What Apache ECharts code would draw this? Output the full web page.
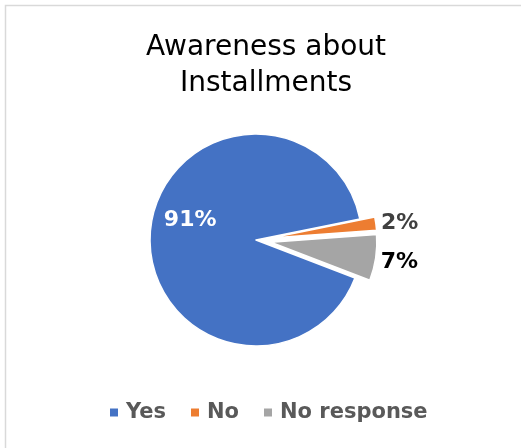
<!DOCTYPE html>
<html>
<head>
<meta charset="utf-8">
<title>Awareness about Installments</title>
<script src="https://cdn.jsdelivr.net/npm/echarts@6/dist/echarts.min.js"></script>
<style>
  html, body { margin: 0; padding: 0; background: #ffffff; }
  #chart { width: 521px; height: 448px; }
</style>
</head>
<body>
<div id="chart"></div>
<script>
// Survey answers and their shares (percent)
const categories = ['Yes', 'No', 'No response'];
const shares = [91, 2, 7];
const sliceColors = ['#4472C4', '#ED7D31', '#A5A5A5'];
const labelColors = ['#FFFFFF', '#404040', '#000000'];
// Minority answers are pulled out of the pie
const pulledOut = [false, true, true];

const FONT = 'DejaVu Sans, Verdana, sans-serif';

// Small nudges for the percentage labels
const labelNudge = [[-10, -15], [0, 0], [0, 5]];

const pieData = categories.map((name, i) => ({
  name: name,
  value: shares[i],
  selected: pulledOut[i],
  itemStyle: { color: sliceColors[i] },
  label: {
    position: i === 0 ? 'inside' : 'outside',
    color: labelColors[i]
  },
  select: {
    itemStyle: { color: sliceColors[i], borderColor: '#FFFFFF', borderWidth: 1.5 },
    label: { color: labelColors[i] }
  }
}));

const chart = echarts.init(document.getElementById('chart'), null, { renderer: 'canvas' });

chart.setOption({
  animation: false,
  backgroundColor: '#FFFFFF',
  graphic: [{
    type: 'rect',
    shape: { x: 5.5, y: 5.5, width: 700, height: 700 },
    style: { fill: 'none', stroke: '#D9D9D9', lineWidth: 1.5 },
    silent: true,
    z: -10
  }],
  title: {
    text: 'Awareness about\nInstallments',
    left: 266,
    top: 30,
    padding: 0,
    textAlign: 'center',
    textStyle: {
      fontFamily: FONT,
      fontSize: 28,
      fontWeight: 'normal',
      color: '#000000',
      lineHeight: 36
    }
  },
  legend: {
    data: categories,
    left: 110,
    top: 402,
    padding: 0,
    icon: 'rect',
    itemWidth: 8,
    itemHeight: 8,
    itemGap: 25,
    selectedMode: false,
    itemStyle: { borderWidth: 0 },
    textStyle: {
      fontFamily: FONT,
      fontSize: 21,
      fontWeight: 'bold',
      color: '#595959',
      lineHeight: 21,
      padding: [0, 0, 0, 3]
    }
  },
  series: [{
    type: 'pie',
    center: [256, 240],
    radius: 106,
    startAngle: 339,
    clockwise: true,
    selectedMode: 'multiple',
    selectedOffset: 15,
    avoidLabelOverlap: false,
    itemStyle: { borderColor: '#FFFFFF', borderWidth: 1.5 },
    emphasis: { scale: false },
    label: {
      show: true,
      formatter: '{c}%',
      fontFamily: FONT,
      fontSize: 22,
      fontWeight: 'bold'
    },
    labelLine: { show: false, length: 0, length2: 0 },
    labelLayout: function (params) {
      const n = labelNudge[params.dataIndex];
      return { dx: n[0], dy: n[1] };
    },
    data: pieData
  }]
});
</script>
</body>
</html>
